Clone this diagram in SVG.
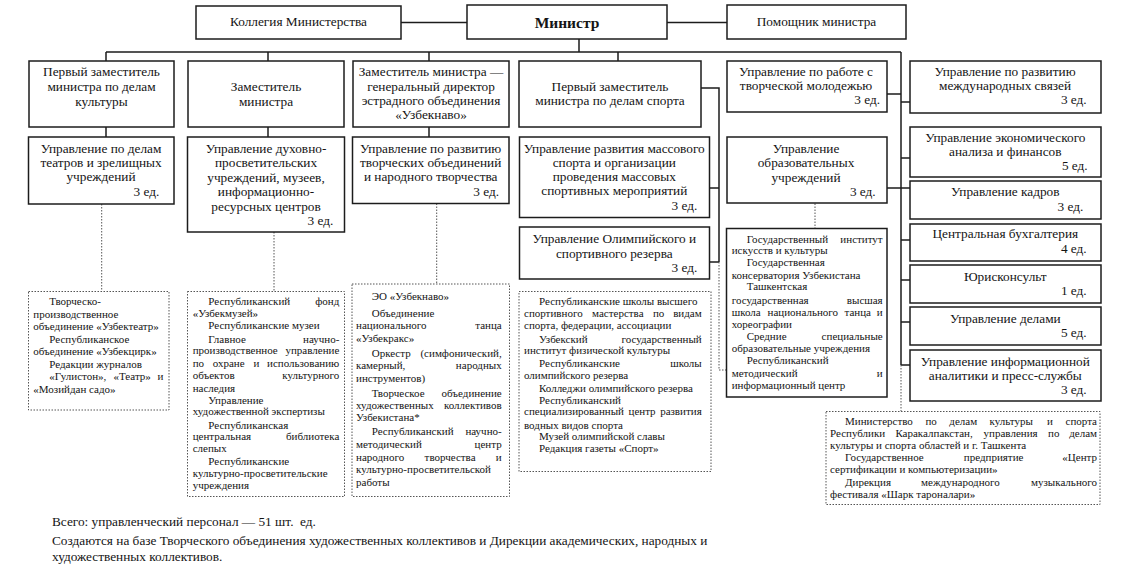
<svg xmlns="http://www.w3.org/2000/svg" width="1132" height="567" viewBox="0 0 1132 567">
<style>
.bx{fill:#fff;stroke:#1c1c1c;stroke-width:1.5}
.db{fill:#fff;stroke:#555;stroke-width:1;stroke-dasharray:1.5 1.5}
.ln{fill:none;stroke:#1c1c1c;stroke-width:1.5}
.dl{fill:none;stroke:#555;stroke-width:1;stroke-dasharray:1.5 1.5}
text{font-family:"Liberation Serif","Times New Roman",serif;fill:#141414}
.m{font-size:13.3px}
.s{font-size:11px}
.b{font-weight:bold;font-size:15.5px}
.c{text-anchor:middle}
.r{text-anchor:end}
</style>
<rect width="1132" height="567" fill="#fff"/>
<g id="connectors">
<path class="ln" d="M401 22.5H467M667 22.5H727M579 39V52M106 52H901M106 52V61M268 52V61M429 52V61M618 52V61M901 52V365"/>
<path class="ln" d="M887 94H901M901 102H910M901 158H910M887 188H910M901 240H910M901 280H910M901 322H910M901 365H910"/>
<path class="ln" d="M106 127V137M268 127V137M429 127V137M701 88H719V262M709 188H719M709 262H719"/>
<path class="dl" d="M719 262V370H726M101.7 204V291.5M274 232V291.5M436.7 203.5V284M815 203.5V228.5M901 365V411.5"/>
</g>
<g id="kollegia"><rect class="bx" x="196" y="6" width="205" height="33"/><text class="m c" x="298.5" y="26">Коллегия Министерства</text></g>
<g id="minister"><rect class="bx" x="467" y="5" width="200" height="34"/><text class="b c" x="567" y="28">Министр</text></g>
<g id="pomoshnik"><rect class="bx" x="727" y="5" width="179" height="34"/><text class="m c" x="816.5" y="26">Помощник министра</text></g>

<g id="dep1"><rect class="bx" x="29" y="61" width="145" height="66"/><text class="m c"><tspan x="101.5" y="76">Первый заместитель</tspan><tspan x="101.5" y="91">министра по делам</tspan><tspan x="101.5" y="106">культуры</tspan></text></g>
<g id="dep2"><rect class="bx" x="188" y="61" width="156" height="66"/><text class="m c"><tspan x="266" y="91">Заместитель</tspan><tspan x="266" y="106">министра</tspan></text></g>
<g id="dep3"><rect class="bx" x="353" y="61" width="156" height="66"/><text class="m c"><tspan x="431" y="76.2">Заместитель министра —</tspan><tspan x="431" y="90.6">генеральный директор</tspan><tspan x="431" y="105">эстрадного объединения</tspan><tspan x="431" y="119.4">«Узбекнаво»</tspan></text></g>
<g id="dep4"><rect class="bx" x="519" y="61" width="182" height="66"/><text class="m c"><tspan x="610" y="91">Первый заместитель</tspan><tspan x="610" y="105">министра по делам спорта</tspan></text></g>
<g id="youth"><rect class="bx" x="727" y="61" width="160" height="51"/><text class="m c"><tspan x="806" y="76">Управление по работе с</tspan><tspan x="806" y="89.5">творческой молодежью</tspan></text><text class="m r" x="880" y="104">3 ед.</text></g>
<g id="intl"><rect class="bx" x="910" y="61" width="191" height="52"/><text class="m c"><tspan x="1005" y="76">Управление по развитию</tspan><tspan x="1005" y="89.5">международных связей</tspan></text><text class="m r" x="1086.7" y="104">3 ед.</text></g>

<g id="theatres"><rect class="bx" x="28.5" y="137" width="145.5" height="67"/><text class="m c"><tspan x="101" y="153">Управление по делам</tspan><tspan x="101" y="167">театров и зрелищных</tspan><tspan x="101" y="181">учреждений</tspan></text><text class="m r" x="159.3" y="196">3 ед.</text></g>
<g id="spiritual"><rect class="bx" x="187.5" y="137" width="157" height="95"/><text class="m c"><tspan x="266" y="153">Управление духовно-</tspan><tspan x="266" y="167">просветительских</tspan><tspan x="266" y="181.5">учреждений, музеев,</tspan><tspan x="266" y="196">информационно-</tspan><tspan x="266" y="211">ресурсных центров</tspan></text><text class="m r" x="333.3" y="225">3 ед.</text></g>
<g id="creative"><rect class="bx" x="352.5" y="137" width="156.5" height="66.5"/><text class="m c"><tspan x="430.7" y="153">Управление по развитию</tspan><tspan x="430.7" y="167">творческих объединений</tspan><tspan x="430.7" y="181">и народного творчества</tspan></text><text class="m r" x="499" y="196">3 ед.</text></g>
<g id="massSport"><rect class="bx" x="519.5" y="137" width="190" height="80.5"/><text class="m c"><tspan x="614.3" y="153">Управление развития массового</tspan><tspan x="614.3" y="167">спорта и организации</tspan><tspan x="614.3" y="181">проведения массовых</tspan><tspan x="614.3" y="195">спортивных мероприятий</tspan></text><text class="m r" x="697.3" y="209.5">3 ед.</text></g>
<g id="olympic"><rect class="bx" x="519.5" y="227" width="190" height="52"/><text class="m c"><tspan x="614.3" y="243">Управление Олимпийского и</tspan><tspan x="614.3" y="258">спортивного резерва</tspan></text><text class="m r" x="697.3" y="272">3 ед.</text></g>
<g id="education"><rect class="bx" x="727" y="137" width="160" height="66"/><text class="m c"><tspan x="806" y="153">Управление</tspan><tspan x="806" y="167">образовательных</tspan><tspan x="806" y="181.5">учреждений</tspan></text><text class="m r" x="875.7" y="195.5">3 ед.</text></g>

<g id="economy"><rect class="bx" x="910" y="127" width="191" height="50"/><text class="m c"><tspan x="1005.3" y="142">Управление экономического</tspan><tspan x="1005.3" y="156">анализа и финансов</tspan></text><text class="m r" x="1087.7" y="170">5 ед.</text></g>
<g id="personnel"><rect class="bx" x="910" y="181" width="191" height="38"/><text class="m c" x="1005.3" y="196">Управление кадров</text><text class="m r" x="1083.3" y="210.5">3 ед.</text></g>
<g id="accounting"><rect class="bx" x="910" y="224" width="191" height="37"/><text class="m c" x="1005.3" y="238">Центральная бухгалтерия</text><text class="m r" x="1086.7" y="252.5">4 ед.</text></g>
<g id="legal"><rect class="bx" x="910" y="265" width="191" height="38"/><text class="m c" x="1005.3" y="281">Юрисконсульт</text><text class="m r" x="1086.7" y="295">1 ед.</text></g>
<g id="affairs"><rect class="bx" x="910" y="307" width="191" height="38"/><text class="m c" x="1005.3" y="323">Управление делами</text><text class="m r" x="1086.7" y="337">5 ед.</text></g>
<g id="press"><rect class="bx" x="910" y="350" width="191" height="51"/><text class="m c"><tspan x="1005.3" y="365.5">Управление информационной</tspan><tspan x="1005.3" y="379.5">аналитики и пресс-службы</tspan></text><text class="m r" x="1086.7" y="393.5">3 ед.</text></g>

<g id="listTheatres"><rect class="db" x="28.5" y="291.5" width="140.5" height="118.5"/>
<text class="s"><tspan x="49.3" y="305">Творческо-</tspan><tspan x="33.3" y="317.5">производственное</tspan><tspan x="33.3" y="330">объединение «Узбектеатр»</tspan><tspan x="49.3" y="342.5">Республиканское</tspan><tspan x="33.3" y="355">объединение «Узбекцирк»</tspan><tspan x="49.3" y="367.5">Редакции журналов</tspan><tspan x="49.3" y="380">«Гулистон»,</tspan><tspan x="113.5" y="380">«Театр»</tspan><tspan x="33.3" y="392.5">«Мозийдан садо»</tspan></text>
<text class="s r" x="163.3" y="380">и</text></g>

<g id="listMuseums"><rect class="db" x="187.5" y="291.5" width="157" height="205"/>
<text class="s"><tspan x="208.3" y="305.2">Республиканский</tspan><tspan x="192.7" y="316.8">«Узбекмузей»</tspan><tspan x="208.3" y="329.2">Республиканские музеи</tspan><tspan x="208.3" y="342.5">Главное</tspan><tspan x="192.7" y="354.2">производственное</tspan><tspan x="192.7" y="366.8">по</tspan><tspan x="212.7" y="366.8">охране</tspan><tspan x="253.4" y="366.8">и</tspan><tspan x="192.7" y="379.2">объектов</tspan><tspan x="192.7" y="391.8">наследия</tspan><tspan x="208.3" y="403.5">Управление</tspan><tspan x="192.7" y="415.2">художественной экспертизы</tspan><tspan x="208.3" y="428.5">Республиканская</tspan><tspan x="192.7" y="440.2">центральная</tspan><tspan x="192.7" y="451.8">слепых</tspan><tspan x="208.3" y="465.2">Республиканские</tspan><tspan x="192.7" y="476.8">культурно-просветительские</tspan><tspan x="192.7" y="488.5">учреждения</tspan></text>
<text class="s r"><tspan x="339.3" y="305.2">фонд</tspan><tspan x="339.3" y="342.5">научно-</tspan><tspan x="339.3" y="354.2">управление</tspan><tspan x="339.3" y="366.8">использованию</tspan><tspan x="339.3" y="379.2">культурного</tspan><tspan x="339.3" y="440.2">библиотека</tspan></text></g>

<g id="listNavo"><rect class="db" x="352" y="284" width="157.5" height="212.5"/>
<text class="s"><tspan x="371.7" y="300">ЭО «Узбекнаво»</tspan><tspan x="371.7" y="316.8">Объединение</tspan><tspan x="356" y="329.2">национального</tspan><tspan x="356" y="341.8">«Узбекракс»</tspan><tspan x="371.7" y="356.8">Оркестр</tspan><tspan x="356" y="369.2">камерный,</tspan><tspan x="356" y="381.8">инструментов)</tspan><tspan x="371.7" y="396.8">Творческое</tspan><tspan x="356" y="408.5">художественных</tspan><tspan x="356" y="420.8">Узбекистана*</tspan><tspan x="371.7" y="435.2">Республиканский</tspan><tspan x="356" y="447.5">методический</tspan><tspan x="356" y="460.8">народного</tspan><tspan x="424.6" y="460.8">творчества</tspan><tspan x="356" y="472.8">культурно-просветительской</tspan><tspan x="356" y="486.2">работы</tspan></text>
<text class="s r"><tspan x="501.7" y="329.2">танца</tspan><tspan x="501.7" y="356.8">(симфонический,</tspan><tspan x="501.7" y="369.2">народных</tspan><tspan x="501.7" y="396.8">объединение</tspan><tspan x="501.7" y="408.5">коллективов</tspan><tspan x="501.7" y="435.2">научно-</tspan><tspan x="501.7" y="447.5">центр</tspan><tspan x="501.7" y="460.8">и</tspan></text></g>

<g id="listSport"><rect class="db" x="519" y="291.5" width="192" height="180"/>
<text class="s"><tspan x="539" y="305.2">Республиканские школы высшего</tspan><tspan x="524" y="316.8">спортивного</tspan><tspan x="592.1" y="316.8">мастерства</tspan><tspan x="652.9" y="316.8">по</tspan><tspan x="524" y="329.2">спорта, федерации, ассоциации</tspan><tspan x="539" y="342.5">Узбекский</tspan><tspan x="524" y="354.2">институт физической культуры</tspan><tspan x="539" y="366.8">Республиканские</tspan><tspan x="524" y="379.2">олимпийского резерва</tspan><tspan x="539" y="391.8">Колледжи олимпийского резерва</tspan><tspan x="539" y="403.5">Республиканский</tspan><tspan x="524" y="415.2">специализированный</tspan><tspan x="628.5" y="415.2">центр</tspan><tspan x="524" y="428.5">водных видов спорта</tspan><tspan x="539" y="440.2">Музей олимпийской славы</tspan><tspan x="539" y="451.8">Редакция газеты «Спорт»</tspan></text>
<text class="s r"><tspan x="701.7" y="316.8">видам</tspan><tspan x="701.7" y="342.5">государственный</tspan><tspan x="701.7" y="366.8">школы</tspan><tspan x="701.7" y="415.2">развития</tspan></text></g>

<g id="listEducation"><rect class="bx" x="726.5" y="228.5" width="160.5" height="168.5"/>
<text class="s"><tspan x="746.7" y="242.5">Государственный</tspan><tspan x="731.7" y="254.2">искусств и культуры</tspan><tspan x="746.7" y="265.8">Государственная</tspan><tspan x="731.7" y="278.5">консерватория Узбекистана</tspan><tspan x="746.7" y="290.2">Ташкентская</tspan><tspan x="731.7" y="303.5">государственная</tspan><tspan x="731.7" y="315.8">школа</tspan><tspan x="767.5" y="315.8">национального</tspan><tspan x="844.5" y="315.8">танца</tspan><tspan x="731.7" y="327.5">хореографии</tspan><tspan x="746.7" y="340.2">Средние</tspan><tspan x="731.7" y="351.8">образовательные учреждения</tspan><tspan x="746.7" y="364.2">Республиканский</tspan><tspan x="731.7" y="376.8">методический</tspan><tspan x="731.7" y="388.5">информационный центр</tspan></text>
<text class="s r"><tspan x="882.7" y="242.5">институт</tspan><tspan x="882.7" y="303.5">высшая</tspan><tspan x="882.7" y="315.8">и</tspan><tspan x="882.7" y="340.2">специальные</tspan><tspan x="882.7" y="376.8">и</tspan></text></g>

<g id="listRegions"><rect class="db" x="826" y="411.5" width="274" height="93"/>
<text class="s"><tspan x="845" y="424.5">Министерство</tspan><tspan x="925.4" y="424.5">по</tspan><tspan x="949.3" y="424.5">делам</tspan><tspan x="989.5" y="424.5">культуры</tspan><tspan x="1047" y="424.5">и</tspan><tspan x="830" y="436.5">Республики</tspan><tspan x="895.4" y="436.5">Каракалпакстан,</tspan><tspan x="983.6" y="436.5">управления</tspan><tspan x="1048" y="436.5">по</tspan><tspan x="830" y="448.5">культуры и спорта областей и г. Ташкента</tspan><tspan x="845" y="461">Государственное</tspan><tspan x="963.8" y="461">предприятие</tspan><tspan x="830" y="473">сертификации и компьютеризации»</tspan><tspan x="845" y="485.5">Дирекция</tspan><tspan x="921.1" y="485.5">международного</tspan><tspan x="830" y="497.5">фестиваля «Шарк тароналари»</tspan></text>
<text class="s r"><tspan x="1097" y="424.5">спорта</tspan><tspan x="1097" y="436.5">делам</tspan><tspan x="1097" y="461">«Центр</tspan><tspan x="1097" y="485.5">музыкального</tspan></text></g>

<g id="notes"><text class="m" x="52" y="525.5">Всего: управленческий персонал — 51 шт.&#160; ед.</text><text class="m"><tspan x="52" y="544.5">Создаются на базе Творческого объединения художественных коллективов и Дирекции академических, народных и</tspan><tspan x="52" y="560.5">художественных коллективов.</tspan></text></g>
</svg>
